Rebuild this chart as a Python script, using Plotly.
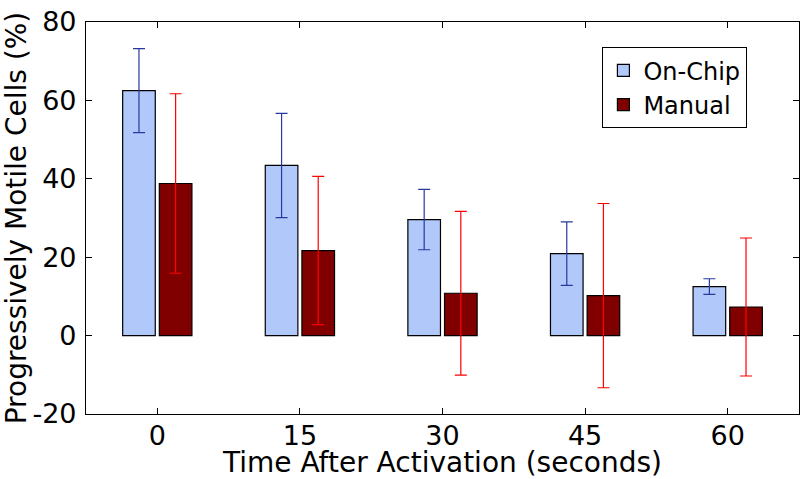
import plotly.graph_objects as go

times = ["0", "15", "30", "45", "60"]
onchip = [62.5, 43.4, 29.6, 20.9, 12.5]
onchip_err = [10.7, 13.3, 7.7, 8.1, 2.0]
manual = [38.8, 21.7, 10.8, 10.2, 7.3]
manual_err = [22.9, 18.9, 20.9, 23.5, 17.6]
y_ticks = [-20, 0, 20, 40, 60, 80]
y_ticktext = ["-20", "0", "20", "40", "60", "80"]

font = "DejaVu Sans"

fig = go.Figure()
fig.add_trace(go.Bar(
    x=times, y=onchip, name="On-Chip",
    marker=dict(color="#b0c8fa", line=dict(color="black", width=1.2)),
    error_y=dict(type="data", array=onchip_err, visible=True,
                 color="#2838a0", thickness=1.2, width=6),
))
fig.add_trace(go.Bar(
    x=times, y=manual, name="Manual",
    marker=dict(color="#800000", line=dict(color="black", width=1.2)),
    error_y=dict(type="data", array=manual_err, visible=True,
                 color="#ff0000", thickness=1.2, width=6),
))

fig.update_layout(
    width=800, height=479,
    margin=dict(l=86, r=1, t=22, b=65),
    plot_bgcolor="white", paper_bgcolor="white",
    barmode="group", bargap=0.486, bargroupgap=0.11,
    font=dict(family=font, size=28, color="black"),
    legend=dict(
        x=0.724, y=0.936, xanchor="left", yanchor="top",
        bordercolor="black", borderwidth=1.2,
        font=dict(family=font, size=24, color="black"),
        bgcolor="white", tracegroupgap=0,
    ),
    xaxis=dict(
        type="category", range=[-0.5, 4.5], automargin=False,
        showline=True, linecolor="black", linewidth=1.2, mirror="allticks",
        ticks="inside", ticklen=6, tickcolor="black",
        ticklabelstandoff=-3,
        title=dict(text="Time After Activation (seconds)", standoff=0,
                   font=dict(family=font, size=28)),
        tickfont=dict(family=font, size=27),
        showgrid=False,
    ),
    yaxis=dict(
        range=[-20, 80], tickvals=y_ticks, ticktext=y_ticktext,
        automargin=False,
        showline=True, linecolor="black", linewidth=1.2, mirror="allticks",
        ticks="inside", ticklen=6, tickcolor="black",
        ticklabelstandoff=3,
        title=dict(text="Progressively Motile Cells (%)", standoff=17,
                   font=dict(family=font, size=28)),
        tickfont=dict(family=font, size=27),
        showgrid=False, zeroline=False,
    ),
)

fig.write_html("out.html", config={"displayModeBar": False},
               post_script="document.body.style.margin='0';")
